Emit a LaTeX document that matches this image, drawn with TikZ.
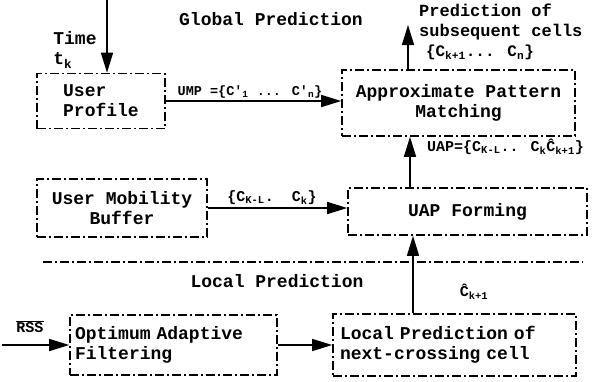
\documentclass[tikz,border=0pt]{standalone}
\usepackage{fontspec}
\setmainfont{Liberation Mono}
\usetikzlibrary{arrows.meta}
\begin{document}
\begin{tikzpicture}[x=1pt,y=-1pt,
  blk/.style={draw, line width=1.6pt, dash pattern=on 9pt off 3pt on 2pt off 3pt,
    inner sep=0pt, font=\fontsize{18}{20}\selectfont\bfseries},
  sepline/.style={line width=1.6pt, dash pattern=on 9pt off 3pt on 2pt off 3pt},
  arr/.style={line width=1.5pt, -{Triangle[length=20pt,width=12pt]}},
  lbl/.style={font=\fontsize{15}{17}\selectfont\bfseries, inner sep=1pt},
  ttl/.style={font=\fontsize{18}{20}\selectfont\bfseries, inner sep=1pt}]
\useasboundingbox (0,0) rectangle (599,381);

\node[ttl] (gp) at (271,19) {Global Prediction};
\node[ttl] (lp) at (277,281) {Local Prediction};

\node[blk, minimum width=128pt, minimum height=55pt, align=left] (up) at (101,101) {User\\Profile};
\node[blk, minimum width=233pt, minimum height=66pt, align=center] (apm) at (458.5,103) {Approximate Pattern\\Matching};
\node[blk, minimum width=170pt, minimum height=58pt, align=center] (umb) at (122,208) {User Mobility\\Buffer};
\node[blk, minimum width=239pt, minimum height=47pt] (uap) at (467.5,211.5) {UAP Forming};
\node[blk, minimum height=60pt, inner xsep=5pt, text width=197pt, align=left] (oaf) at (173.5,345) {Optimum Adaptive\\Filtering};
\node[blk, minimum height=62pt, inner xsep=7pt, text width=229pt, align=left] (lpn) at (454.5,345) {Local Prediction of\\next-crossing cell};

\coordinate (sepl) at (43,262);
\coordinate (sepr) at (583,262);
\draw[sepline] (sepl) -- (sepr);

% time input
\coordinate (tt) at (107,0);
\draw[arr] (tt) -- (tt |- up.north);
\node[ttl, align=left] (time) at (75,50) {Time\\t\textsubscript{k}};

% UMP
\draw[arr] (up.east) -- (up.east -| apm.west);
\node[lbl, anchor=south, font=\fontsize{13.5}{15}\selectfont\bfseries] (umpl) at (250,99) {UMP =\{C′\textsubscript{1} ... C′\textsubscript{n}\}};

% mobility buffer
\draw[arr] (umb.east) -- (umb.east -| uap.west);
\node[lbl, anchor=south] (bufl) at (272,206) {\{C\textsubscript{K-L}.\ \ C\textsubscript{k}\}};

% UAP -> APM
\coordinate (c1) at (410,0);
\draw[arr] (uap.north -| c1) -- (apm.south -| c1);
\node[lbl, anchor=west] (uapl) at (426,147) {UAP=\{C\textsubscript{K-L}.. C\textsubscript{k}Ĉ\textsubscript{k+1}\}};

% local -> UAP
\coordinate (c2) at (413,0);
\draw[arr] (lpn.north -| c2) -- (uap.south -| c2);
\node[lbl] (chat) at (474,292) {Ĉ\textsubscript{k+1}};

% RSS
\coordinate (rssin) at (2,345);
\draw[arr] (rssin) -- (oaf.west);
\node[lbl] (rss) at (30,327) {$\overline{\mbox{RSS}}$};

% oaf -> lpn
\draw[arr] (oaf.east) -- (lpn.west);

% output
\coordinate (c3) at (408,25);
\draw[arr] (apm.north -| c3) -- (c3);
\node[ttl, anchor=north west, align=left, font=\fontsize{17}{20}\selectfont\bfseries] (outl) at (418,3)
  {Prediction of\\subsequent cells\\\hspace*{0.4em}{\fontsize{16}{20}\selectfont\{C\textsubscript{k+1}... C\textsubscript{n}\}}};
\end{tikzpicture}
\end{document}
